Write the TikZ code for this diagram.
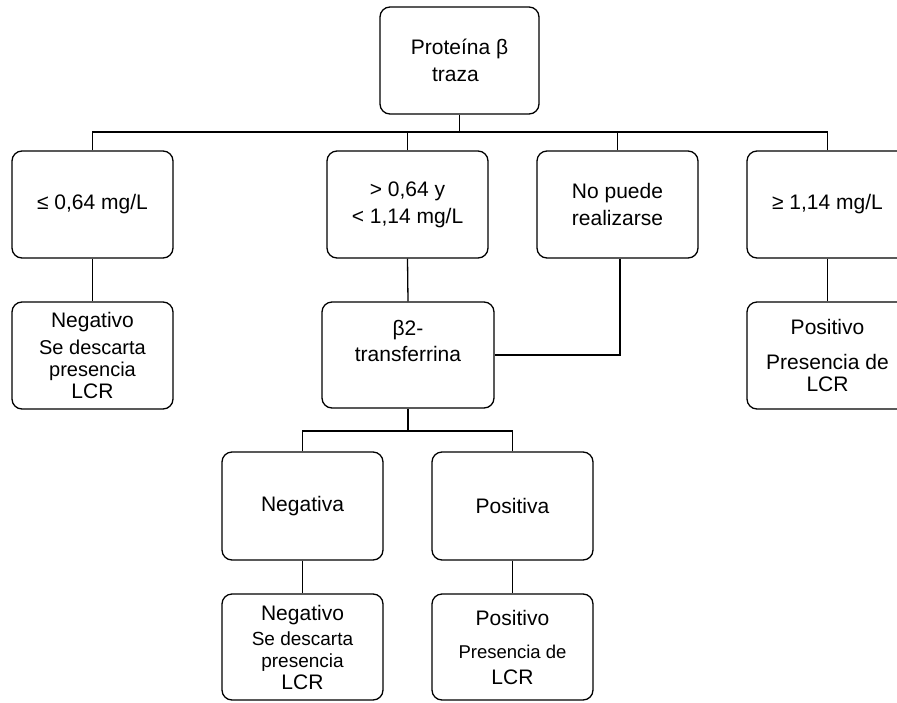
\documentclass[tikz,border=0pt]{standalone}
\usepackage{fontspec}
\setmainfont{Liberation Sans}
\begin{document}
\begin{tikzpicture}[x=1pt,y=-1pt,
  box/.style={draw, line width=1.3pt, rounded corners=10pt, minimum width=161pt,
    minimum height=107pt, align=center, inner sep=0pt, font=\fontsize{21}{27}\selectfont},
  res/.style={box, font=\fontsize{21}{22}\selectfont},
  link/.style={line width=1.3pt}]
\clip (0,0) rectangle (897,702);
\fill[white] (0,0) rectangle (897,702);

\node[box, minimum width=159pt] (top) at (459.5,60.5) {Proteína β\\traza\hspace*{8pt}};

\node[box] (b1) at (92.5,204.5) {≤ 0,64 mg/L};
\node[box] (b2) at (407.5,204.5) {> 0,64 y\\< 1,14 mg/L};
\node[box] (b3) at (617.5,204.5) {No puede\\realizarse};
\node[box] (b4) at (827.5,204.5) {≥ 1,14 mg/L};

\node[res] (b1b) at (92.5,355.5) {Negativo\\[5pt]{\fontsize{20}{22}\selectfont Se descarta}\\{\fontsize{20}{22}\selectfont presencia}\\LCR};
\node[box, minimum width=172pt, minimum height=106pt, font=\fontsize{21}{26}\selectfont] (b2b) at (408,355) {β2-\\transferrina\\[2pt]};
\node[res] (b4b) at (827.5,355.5) {Positivo\\[13pt]Presencia de\\LCR};

\node[box, minimum height=108pt] (n1) at (302.5,506) {Negativa};
\node[box, minimum height=108pt] (p1) at (512.5,506) {Positiva};

\node[res, minimum height=106pt] (n2) at (302.5,647) {Negativo\\[3pt]{\fontsize{19}{22}\selectfont Se descarta}\\{\fontsize{19}{22}\selectfont presencia}\\LCR};
\node[res, minimum height=106pt] (p2) at (512.5,647) {Positivo\\[11pt]{\fontsize{18.5}{22}\selectfont Presencia de}\\[4pt]LCR};

\coordinate (bus1) at (459.5,132);
\coordinate (bus2) at (408,431);
\coordinate (side) at (620,355);

\draw[link] (top.south) -- (bus1);
\draw[link] (b1.north) |- (bus1);
\draw[link] (b2.north) |- (bus1);
\draw[link] (b3.north) |- (bus1);
\draw[link] (b4.north) |- (bus1);

\draw[link] (b1.south) -- (b1b.north);
\draw[link] (b2.south) -- (b2b.north);
\draw[link] (b4.south) -- (b4b.north);
\draw[link] (b3.south -| side) -- (side) -- (b2b.east |- side);

\draw[link] (b2b.south) -- (bus2);
\draw[link] (n1.north) |- (bus2);
\draw[link] (p1.north) |- (bus2);
\draw[link] (n1.south) -- (n2.north);
\draw[link] (p1.south) -- (p2.north);
\end{tikzpicture}
\end{document}
